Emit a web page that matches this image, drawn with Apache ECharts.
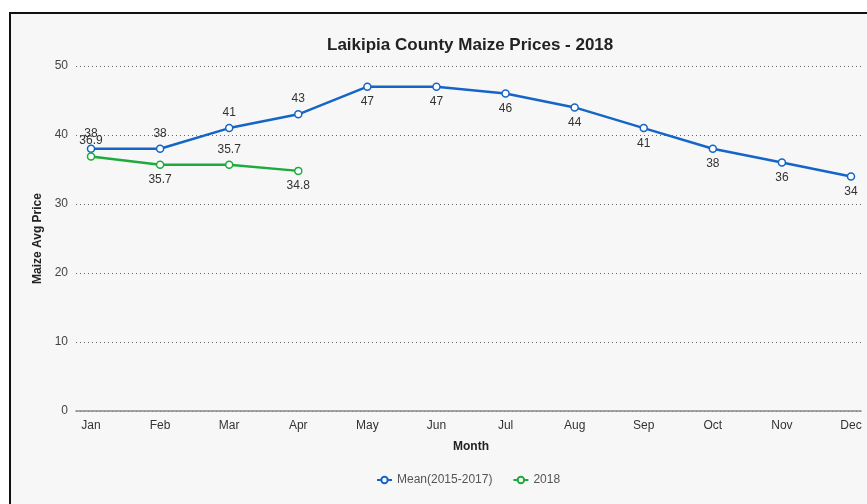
<!DOCTYPE html>
<html><head><meta charset="utf-8">
<script src="https://cdn.jsdelivr.net/npm/echarts@6/dist/echarts.min.js"></script>
<style>
html,body{margin:0;padding:0;background:#fff;overflow:hidden;width:867px;height:504px;}
#frame{position:absolute;left:9px;top:12px;width:900px;height:520px;border:2px solid #111;background:#f7f7f7;}
#c{position:absolute;left:0;top:0;width:867px;height:504px;}
</style></head>
<body>
<div id="frame"></div>
<div id="c"></div>
<script>
const months = ['Jan','Feb','Mar','Apr','May','Jun','Jul','Aug','Sep','Oct','Nov','Dec'];
const meanValues = [38,38,41,43,47,47,46,44,41,38,36,34];
const values2018 = [36.9,35.7,35.7,34.8];
const meanLabelPos = ['top','top','top','top','bottom','bottom','bottom','bottom','bottom','bottom','bottom','bottom'];
const pos2018 = ['top','bottom','top','bottom'];
const yTicks = [0,10,20,30,40,50];

const blue = '#1565c8', green = '#1eaa3c';
const chart = echarts.init(document.getElementById('c'), null, {renderer:'canvas'});
const lbl = {show:true, fontSize:12, color:'#333', fontFamily:'Liberation Sans, Arial, sans-serif'};
chart.setOption({
  backgroundColor:'transparent',
  textStyle:{fontFamily:'Liberation Sans, Arial, sans-serif'},
  title:{text:'Laikipia County Maize Prices - 2018', left:322, top:32,
    textStyle:{fontSize:17, fontWeight:'bold', color:'#222'}},
  legend:{bottom:13, left:371, itemGap:20, itemWidth:15, itemHeight:8,
    textStyle:{fontSize:12, color:'#555'}, data:['Mean(2015-2017)','2018']},
  grid:[
    {left:76, right:6, top:66, bottom:93},
    {left:91, width:760, top:66, bottom:93}
  ],
  xAxis:[
    {type:'value', gridIndex:0, min:0, max:1, axisLine:{show:true, lineStyle:{color:'#888', width:1.5}},
      axisTick:{show:false}, axisLabel:{show:false}, splitLine:{show:false}},
    {type:'category', gridIndex:1, data:months, boundaryGap:false,
      axisLine:{show:false}, axisTick:{show:false}, splitLine:{show:false},
      axisLabel:{fontSize:12, color:'#333', margin:9},
      name:'Month', nameLocation:'middle', nameGap:30,
      nameTextStyle:{fontSize:12, fontWeight:'bold', color:'#222'}}
  ],
  yAxis:[
    {type:'value', gridIndex:0, min:0, max:50, interval:10,
      axisLine:{show:false}, axisTick:{show:false},
      axisLabel:{fontSize:12, color:'#444', margin:8},
      splitLine:{show:true, lineStyle:{type:[1,3], color:'#666', width:1}},
      name:'Maize Avg Price', nameLocation:'middle', nameGap:26,
      nameTextStyle:{fontSize:12, fontWeight:'bold', color:'#222'}},
    {type:'value', gridIndex:1, min:0, max:50, interval:10, show:false, splitLine:{show:false}}
  ],
  series:[
    {name:'Mean(2015-2017)', type:'line', xAxisIndex:1, yAxisIndex:1,
      data:meanValues.map((v,i)=>({value:v, label:{position:meanLabelPos[i]}})),
      symbol:'circle', symbolSize:7, color:blue,
      itemStyle:{color:'#fff', borderColor:blue, borderWidth:1.5},
      lineStyle:{color:blue, width:2.5}, label:lbl, z:3},
    {name:'2018', type:'line', xAxisIndex:1, yAxisIndex:1,
      data:values2018.map((v,i)=>({value:v, label:{position:pos2018[i]}})),
      symbol:'circle', symbolSize:7, color:green,
      itemStyle:{color:'#fff', borderColor:green, borderWidth:1.5},
      lineStyle:{color:green, width:2.5}, label:lbl, z:4}
  ]
});
</script>
</body></html>
